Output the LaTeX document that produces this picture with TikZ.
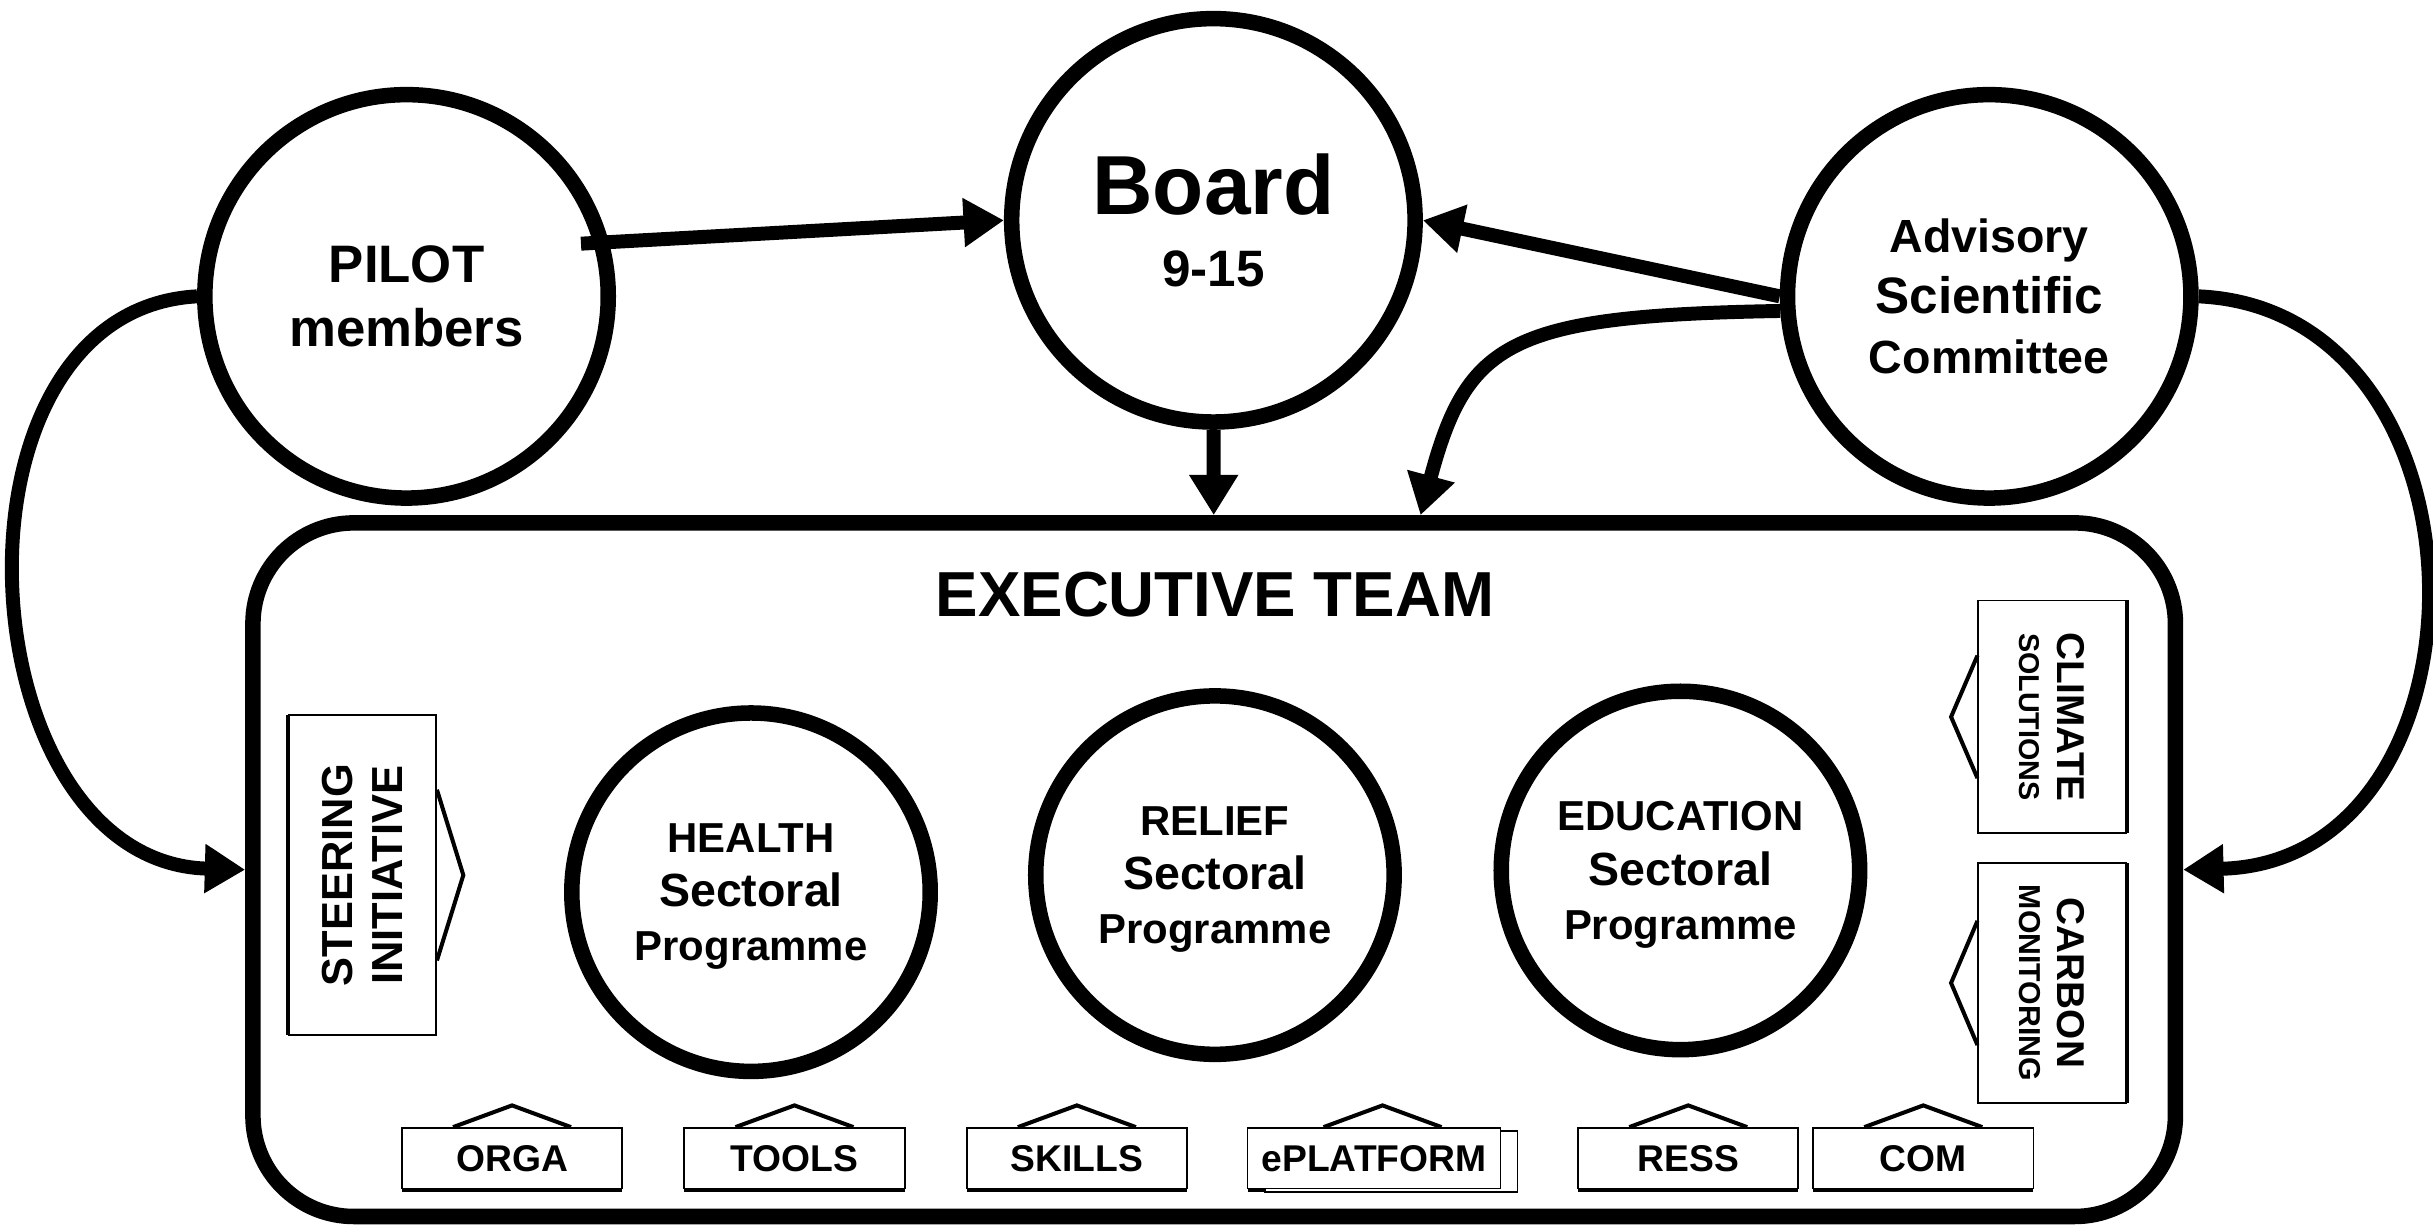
\documentclass[tikz,border=0pt]{standalone}
\usepackage{fontspec}
\setmainfont{Liberation Sans}
\usetikzlibrary{arrows.meta,shadows}
\begin{document}
\begin{tikzpicture}
		[x=1pt,y=1pt,
		bigplace/.style={circle,draw=black,fill=white,line width=10pt,
inner sep=0pt,minimum size=260pt,align=center,text depth=0pt},
		smallplace/.style={circle,draw=black,fill=white,line width=10pt,
inner sep=0pt,minimum size=231pt,align=center,text depth=0pt,
font=\bfseries\fontsize{27}{35}\selectfont},
		teamstyle/.style={rectangle,draw=black,line width=10pt,rounded corners=65pt,
minimum width=1239pt,minimum height=447pt},
		textstyle/.style={font=\bfseries\fontsize{41}{48}\selectfont},
		tabbox/.style={rectangle,draw=black,fill=white,line width=1.2pt,inner sep=0pt,
minimum width=142pt,minimum height=39pt,font=\bfseries\fontsize{24}{29}\selectfont,
drop shadow={shadow xshift=0pt,shadow yshift=-2pt,opacity=1,fill=black}},
		sidebox/.style={rectangle,draw=black,fill=white,line width=1.2pt,inner sep=0pt,
minimum height=95pt,align=center,text depth=0pt},
		tabline/.style={line width=2.6pt,line join=miter},
		edgestyle/.style={-{Triangle[length=26pt,width=30pt]},line width=9pt}]
		\useasboundingbox (0,0) rectangle (1568,789);
		\node at (782.5, 228.5) (exec) [teamstyle] {};
		\node at (783, 406) (title) [textstyle] {EXECUTIVE TEAM};
		\node at (262, 598) (pilot) [bigplace,font=\bfseries\fontsize{34}{41}\selectfont]
			{PILOT\\members};
		\node at (782, 647) (board) [bigplace,font=\bfseries\fontsize{33}{46}\selectfont]
			{{\fontsize{54}{46}\selectfont Board}\\9-15};
		\node at (1282, 598) (advisory) [bigplace,font=\bfseries\fontsize{30}{39}\selectfont]
			{Advisory\\{\fontsize{33}{39}\selectfont Scientific}\\Committee};
		\node at (484, 214) (health) [smallplace]
			{HEALTH\\{\fontsize{30}{35}\selectfont Sectoral}\\{\fontsize{27}{35}\selectfont Programme}};
		\node at (783, 225) (relief) [smallplace]
			{RELIEF\\{\fontsize{30}{35}\selectfont Sectoral}\\{\fontsize{27}{35}\selectfont Programme}};
		\node at (1083, 228) (education) [smallplace]
			{EDUCATION\\{\fontsize{30}{35}\selectfont Sectoral}\\{\fontsize{27}{35}\selectfont Programme}};
		\node at (233.5, 225) (steer) [sidebox,rotate=90,minimum width=206pt,
font=\bfseries\fontsize{28}{32.5}\selectfont,
drop shadow={shadow xshift=-2pt,shadow yshift=0pt,opacity=1,fill=black}]
			{STEERING\\INITIATIVE};
		\node at (1322.5, 327) (climate) [sidebox,rotate=-90,minimum width=150pt,
font=\bfseries\fontsize{18.5}{24}\selectfont,
drop shadow={shadow xshift=2pt,shadow yshift=0pt,opacity=1,fill=black}]
			{{\fontsize{25}{24}\selectfont CLIMATE}\\SOLUTIONS};
		\node at (1322.5, 155.5) (carbon) [sidebox,rotate=-90,minimum width=155pt,
font=\bfseries\fontsize{19.5}{24}\selectfont,
drop shadow={shadow xshift=2pt,shadow yshift=0pt,opacity=1,fill=black}]
			{{\fontsize{25}{24}\selectfont CARBON}\\MONITORING};
		\node at (330, 42.5) (orga) [tabbox] {ORGA};
		\node at (512, 42.5) (tools) [tabbox] {TOOLS};
		\node at (694, 42.5) (skills) [tabbox] {SKILLS};
		\node at (885.5, 42.5) (eplat) [tabbox,minimum width=163pt,
copy shadow={shadow xshift=11pt,shadow yshift=-2pt}] {ePLATFORM};
		\node at (1088, 42.5) (ress) [tabbox] {RESS};
		\node at (1239.5, 42.5) (com) [tabbox] {COM};
		\draw[tabline] ([yshift=55pt]steer.south) -- ++(17,-55) -- ([yshift=-55pt]steer.south);
		\draw[tabline] ([yshift=39.5pt]climate.south) -- ++(-17,-39.5) -- ([yshift=-39.5pt]climate.south);
		\draw[tabline] ([yshift=40pt]carbon.south) -- ++(-17,-40) -- ([yshift=-40pt]carbon.south);
		\draw[tabline] ([xshift=-38pt]orga.north) -- ++(38,14) -- ([xshift=38pt]orga.north);
		\draw[tabline] ([xshift=-38pt]tools.north) -- ++(38,14) -- ([xshift=38pt]tools.north);
		\draw[tabline] ([xshift=-38pt]skills.north) -- ++(38,14) -- ([xshift=38pt]skills.north);
		\draw[tabline] ([xshift=-32.5pt]eplat.north) -- ++(38,14) -- ([xshift=43.5pt]eplat.north);
		\draw[tabline] ([xshift=-38pt]ress.north) -- ++(38,14) -- ([xshift=38pt]ress.north);
		\draw[tabline] ([xshift=-38pt]com.north) -- ++(38,14) -- ([xshift=38pt]com.north);
		\draw[edgestyle,shorten <=-18pt] (pilot.15) -- (board.west);
		\draw[edgestyle] (advisory.west) -- (board.east);
		\draw[edgestyle] (board) -- (exec);
		\draw[edgestyle] (advisory.184) .. controls +(-175,-3) and +(30,112) .. ([xshift=133pt]exec.north);
		\draw[edgestyle] (pilot.west) .. controls +(-170,-9) and +(-181,5) .. (exec.west);
		\draw[edgestyle] (advisory.east) .. controls +(196,-9) and +(205,5) .. (exec.east);
	\end{tikzpicture}
\end{document}
